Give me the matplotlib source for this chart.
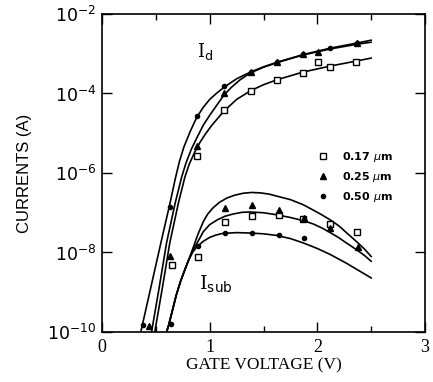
import matplotlib
matplotlib.use("Agg")
import matplotlib.pyplot as plt
import numpy as np
from matplotlib.ticker import FixedLocator, FixedFormatter

# exponents (log10 of current in A)
# --- drain current model curves ---
id_x_050 = [0.36, 0.46, 0.56, 0.63, 0.68, 0.72, 0.76, 0.82, 0.88, 0.94, 1.00, 1.07, 1.13, 1.25, 1.38, 1.50, 1.63, 1.87, 2.12, 2.37, 2.50]
id_e_050 = [-10.0, -8.8, -7.6, -6.78, -6.15, -5.7, -5.35, -4.95, -4.6, -4.35, -4.15, -3.98, -3.85, -3.63, -3.46, -3.33, -3.21, -3.02, -2.86, -2.73, -2.66]
id_x_025 = [0.46, 0.53, 0.60, 0.68, 0.74, 0.78, 0.83, 0.88, 0.94, 1.00, 1.07, 1.13, 1.20, 1.28, 1.38, 1.50, 1.63, 1.87, 2.12, 2.37, 2.50]
id_e_025 = [-10.0, -8.9, -7.75, -6.75, -6.1, -5.75, -5.4, -5.12, -4.8, -4.55, -4.28, -4.05, -3.85, -3.66, -3.48, -3.34, -3.22, -3.03, -2.88, -2.76, -2.71]
id_x_017 = [0.49, 0.56, 0.63, 0.71, 0.77, 0.81, 0.86, 0.91, 0.96, 1.02, 1.13, 1.25, 1.38, 1.50, 1.63, 1.87, 2.12, 2.37, 2.50]
id_e_017 = [-10.0, -8.9, -7.75, -6.75, -6.1, -5.78, -5.48, -5.23, -5.02, -4.8, -4.45, -4.15, -3.93, -3.78, -3.65, -3.46, -3.31, -3.18, -3.11]

# --- substrate current model curves ---
isub_x_025 = [0.60, 0.62, 0.65, 0.69, 0.73, 0.77, 0.80, 0.845, 0.89, 0.94, 0.98, 1.03, 1.09, 1.16, 1.23, 1.31, 1.39, 1.47, 1.55, 1.62, 1.75, 1.87, 1.96, 2.04, 2.12, 2.20, 2.27, 2.37, 2.44, 2.50]
isub_e_025 = [-10.0, -9.82, -9.5, -9.07, -8.72, -8.43, -8.22, -7.89, -7.55, -7.23, -7.04, -6.88, -6.74, -6.63, -6.56, -6.51, -6.49, -6.50, -6.53, -6.58, -6.67, -6.8, -6.93, -7.05, -7.18, -7.33, -7.5, -7.74, -7.92, -8.1]
isub_x_017 = [0.60, 0.62, 0.65, 0.69, 0.73, 0.77, 0.80, 0.85, 0.90, 0.94, 1.00, 1.07, 1.14, 1.22, 1.30, 1.37, 1.50, 1.62, 1.75, 1.87, 1.96, 2.04, 2.12, 2.20, 2.27, 2.37, 2.44, 2.50]
isub_e_017 = [-10.0, -9.82, -9.5, -9.07, -8.72, -8.43, -8.22, -7.92, -7.68, -7.48, -7.3, -7.18, -7.09, -7.03, -6.99, -6.98, -7.0, -7.05, -7.12, -7.2, -7.28, -7.38, -7.5, -7.63, -7.76, -7.94, -8.08, -8.22]
isub_x_050 = [0.60, 0.62, 0.65, 0.69, 0.73, 0.77, 0.80, 0.84, 0.88, 0.94, 1.00, 1.06, 1.12, 1.25, 1.37, 1.50, 1.62, 1.75, 1.87, 2.00, 2.12, 2.27, 2.37, 2.50]
isub_e_050 = [-10.0, -9.82, -9.5, -9.07, -8.72, -8.43, -8.22, -8.0, -7.86, -7.72, -7.62, -7.56, -7.52, -7.5, -7.51, -7.53, -7.57, -7.65, -7.76, -7.9, -8.05, -8.27, -8.43, -8.64]

# --- measured points ---
sq_x = [0.65, 0.88, 1.13, 1.38, 1.63, 1.87, 2.01, 2.12, 2.36,
        0.89, 1.14, 1.39, 1.64, 1.87, 2.12, 2.37]
sq_e = [-8.31, -5.57, -4.41, -3.94, -3.66, -3.48, -3.2, -3.33, -3.2,
        -8.11, -7.23, -7.08, -7.06, -7.16, -7.28, -7.48]
tri_x = [0.44, 0.63, 0.88, 1.13, 1.38, 1.63, 1.87, 2.01, 2.37,
         1.14, 1.39, 1.64, 1.88, 2.12, 2.38]
tri_e = [-9.85, -8.09, -5.32, -4.0, -3.45, -3.21, -3.01, -2.96, -2.73,
         -6.89, -6.81, -6.93, -7.13, -7.38, -7.86]
dot_x = [0.38, 0.63, 0.88, 1.13, 1.38, 1.63, 1.87, 2.12, 2.37,
         0.64, 0.89, 1.14, 1.39, 1.64, 1.88]
dot_e = [-9.82, -6.86, -4.57, -3.81, -3.46, -3.21, -3.01, -2.86, -2.73,
         -9.8, -7.84, -7.51, -7.51, -7.56, -7.64]

legend_labels = ["0.17 $\\mu$m", "0.25 $\\mu$m", "0.50 $\\mu$m"]
y_tick_exp = [-10, -8, -6, -4, -2]
x_ticks = [0, 1, 2, 3]


def cur(e):
    return 10.0 ** np.asarray(e)


fig = plt.figure(figsize=(4.33, 3.82), dpi=100)
ax = fig.add_axes([0.2356, 0.1309, 0.7459, 0.8325])

for xs, es in [(id_x_050, id_e_050), (id_x_025, id_e_025), (id_x_017, id_e_017),
               (isub_x_025, isub_e_025), (isub_x_017, isub_e_017), (isub_x_050, isub_e_050)]:
    ax.plot(xs, cur(es), color="black", lw=1.2, solid_joinstyle="round")

h1, = ax.plot(sq_x, cur(sq_e), ls="none", marker="s", ms=4.5, mfc="white", mec="black", mew=1.0)
h2, = ax.plot(tri_x, cur(tri_e), ls="none", marker="^", ms=4, color="black")
h3, = ax.plot(dot_x, cur(dot_e), ls="none", marker="o", ms=3, color="black")

ax.set_yscale("log")
ax.set_xlim(0, 3)
ax.set_ylim(1e-10, 1e-2)

ax.yaxis.set_major_locator(FixedLocator([10.0 ** e for e in y_tick_exp]))
ax.yaxis.set_major_formatter(FixedFormatter(["$10^{%d}$" % e for e in y_tick_exp]))
ax.yaxis.set_minor_locator(FixedLocator([]))
ax.xaxis.set_major_locator(FixedLocator(x_ticks))
ax.xaxis.set_minor_locator(FixedLocator([0.5, 1.5, 2.5]))
ax.set_xticklabels([str(t) for t in x_ticks], family="Liberation Serif", fontsize=13)

ax.tick_params(which="both", direction="in", top=True, right=True, color="black")
ax.tick_params(which="major", length=7, width=1)
ax.tick_params(which="minor", length=4, width=1)
ax.tick_params(axis="y", labelsize=12.5, pad=4)
ax.tick_params(axis="x", pad=5)
for s in ax.spines.values():
    s.set_linewidth(1.2)

ax.set_ylabel("CURRENTS (A)", family="Liberation Sans", fontsize=12, labelpad=11)
ax.set_xlabel("GATE VOLTAGE (V)", family="Liberation Serif", fontsize=12.5, labelpad=1)

ax.text(0.88, 10 ** -2.95, r"I$_{\rm d}$", family="DejaVu Serif", fontsize=13, va="center")
ax.text(0.90, 10 ** -8.8, r"I$_{\rm sub}$", family="DejaVu Serif", fontsize=14, va="center")

leg = ax.legend([h1, h2, h3], legend_labels, loc="upper left",
                bbox_to_anchor=(0.635, 0.605), frameon=False, handlelength=1.0,
                handletextpad=1.2, labelspacing=0.55,
                prop={"family": "DejaVu Sans", "weight": "bold", "size": 8})

fig.savefig("out.png", dpi=100)
